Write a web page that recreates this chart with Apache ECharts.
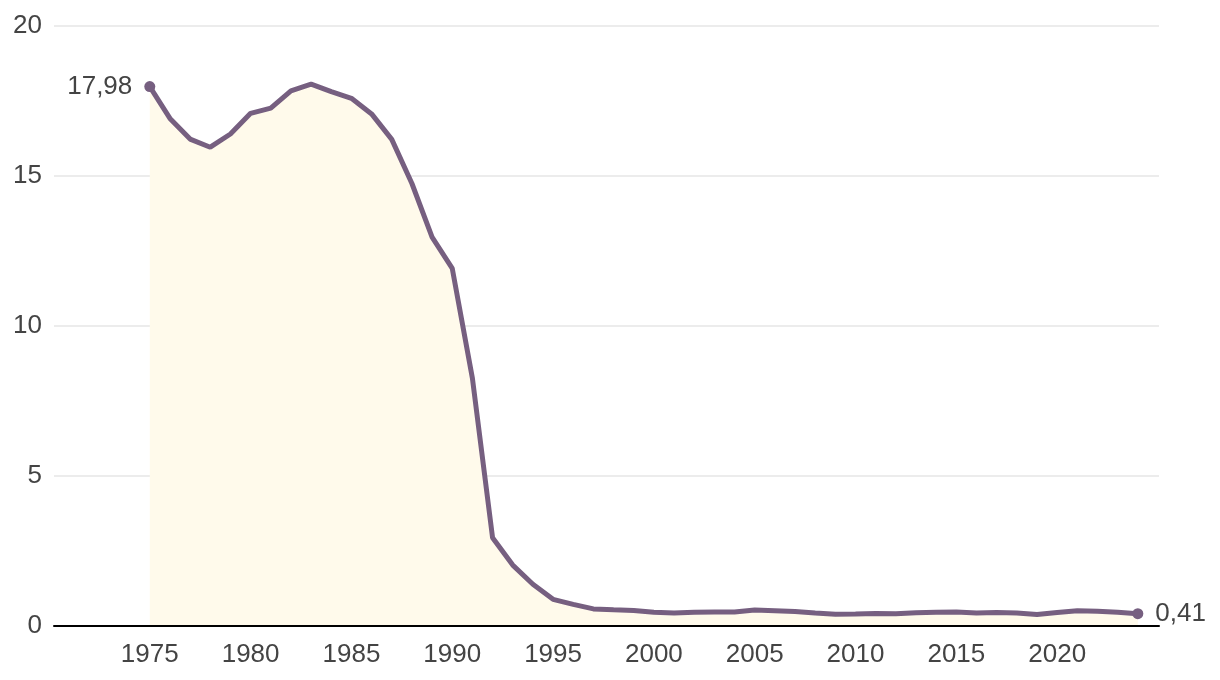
<!DOCTYPE html>
<html>
<head>
<meta charset="utf-8">
<script src="https://cdn.jsdelivr.net/npm/echarts@6/dist/echarts.min.js"></script>
<style>
html,body{margin:0;padding:0;background:#fff;}
#chart{width:1220px;height:680px;}
</style>
</head>
<body>
<div id="chart"></div>
<script>
const years = [1975,1976,1977,1978,1979,1980,1981,1982,1983,1984,1985,1986,1987,1988,1989,1990,1991,1992,1993,1994,1995,1996,1997,1998,1999,2000,2001,2002,2003,2004,2005,2006,2007,2008,2009,2010,2011,2012,2013,2014,2015,2016,2017,2018,2019,2020,2021,2022,2023,2024];
const values = [17.98,16.92,16.23,15.96,16.40,17.09,17.26,17.84,18.06,17.81,17.59,17.07,16.22,14.75,12.96,11.92,8.26,2.94,2.03,1.39,0.89,0.72,0.57,0.54,0.52,0.46,0.43,0.46,0.47,0.47,0.53,0.51,0.48,0.43,0.39,0.40,0.42,0.41,0.44,0.46,0.47,0.43,0.45,0.43,0.38,0.45,0.51,0.49,0.46,0.41];
const xTickLabels = [1975,1980,1985,1990,1995,2000,2005,2010,2015,2020];
const yTicks = [0,5,10,15,20];

const lineData = years.map((y,i)=>[y, values[i]]);
const endData = [
  {value:[years[0], values[0]], label:{position:'left'}},
  {value:[years[years.length-1], values[values.length-1]], label:{position:'right'}}
];
const fmt = v => String(v).replace('.', ',');
const FONT = '"Liberation Sans", Arial, sans-serif';

const chart = echarts.init(document.getElementById('chart'), null, {renderer:'canvas'});
chart.setOption({
  animation:false,
  backgroundColor:'#ffffff',
  grid:{left:54, right:61, top:26, bottom:54, containLabel:false},
  xAxis:{
    type:'value', min:1970.25, max:2025.05, z:10,
    axisLine:{show:true, onZero:false, lineStyle:{color:'#000', width:2}},
    axisTick:{show:false},
    splitLine:{show:false},
    axisLabel:{customValues:xTickLabels, color:'#444', fontSize:26, fontFamily:FONT, margin:16, formatter:v=>String(v)}
  },
  yAxis:{
    type:'value', min:yTicks[0], max:yTicks[yTicks.length-1], interval:5,
    axisLine:{show:false}, axisTick:{show:false},
    splitLine:{show:true, lineStyle:{color:'#e6e6e6', width:1.5}},
    axisLabel:{color:'#444', fontSize:26, fontFamily:FONT, margin:12}
  },
  series:[
    {
      type:'line', data:lineData, showSymbol:false, symbol:'none',
      lineStyle:{color:'#765f80', width:5},
      itemStyle:{color:'#765f80'},
      areaStyle:{color:'#fffaeb', opacity:1, origin:'start'},
      z:2
    },
    {
      type:'scatter', data:endData, symbol:'circle', symbolSize:11,
      itemStyle:{color:'#765f80', opacity:1},
      label:{show:true, formatter:p=>fmt(p.value[1]), color:'#444', fontSize:26, fontFamily:FONT, distance:12},
      z:3
    }
  ]
});
</script>
</body>
</html>
